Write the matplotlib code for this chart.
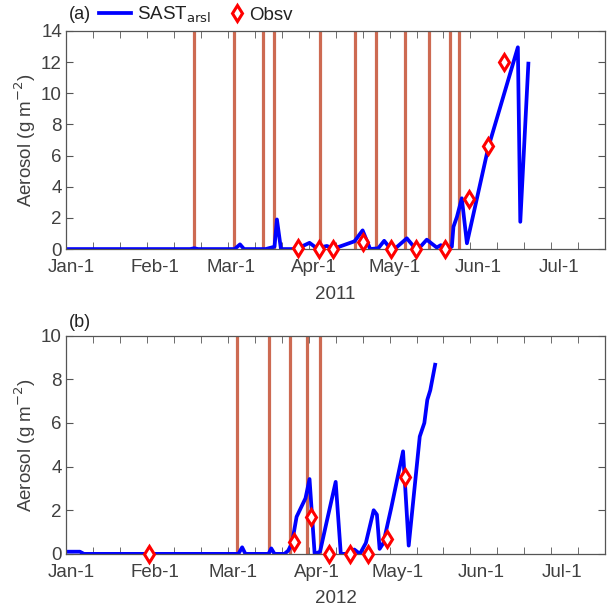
import numpy as np
import matplotlib
matplotlib.use("Agg")
import matplotlib.pyplot as plt
from matplotlib.ticker import FixedLocator, MultipleLocator

plt.rcParams['font.family'] = ['Liberation Sans', 'DejaVu Sans']
plt.rcParams['font.size'] = 13

# --- data (x in day of year, Jan-1 = 1) ---
month_names = ['Jan-1', 'Feb-1', 'Mar-1', 'Apr-1', 'May-1', 'Jun-1', 'Jul-1']
month_doy_2011 = [1, 32, 60, 91, 121, 152, 182]
month_doy_2012 = [1, 32, 61, 92, 122, 153, 183]

# simulated aerosol, 2011
sim_doy_2011 = [-1, 45, 46.5, 48, 61.5, 63.5, 65, 73, 76.3, 77.2, 78.7, 83, 85,
                89.3, 92, 95.7, 98, 99.5, 104.4, 106, 109, 111.8, 114.8, 117,
                119.2, 121.5, 125.4, 128.5, 130.7, 132.8, 136.5, 138, 140.3,
                142.1, 142.7, 144, 145.8, 147.7, 155.6, 166.6, 167.5, 170.5]
sim_val_2011 = [0, 0, 0.05, 0, 0, 0.3, 0, 0, 0.15, 1.9, 0, 0, 0.05,
                0.4, 0.05, 0.2, 0.05, 0.1, 0.4, 0.5, 1.2, 0, 0.05, 0.53,
                0.05, 0.1, 0.69, 0.05, 0.2, 0.6, 0.1, 0.25, 0.05,
                0.15, 1.43, 2.07, 3.26, 0.37, 6.5, 12.95, 1.75, 11.9]
obs_doy_2011 = [85.0, 92.9, 98.1, 109.0, 119.5, 128.8, 139.6, 148.6, 155.7, 161.5]
obs_val_2011 = [0.05, 0.0, 0.0, 0.43, 0.0, 0.02, 0.0, 3.2, 6.6, 12.0]
events_2011 = [46.5, 61.3, 72.2, 76.2, 93.1, 106.0, 113.9, 124.9, 133.8, 141.6, 144.6]

# simulated aerosol, 2012
sim_doy_2012 = [-1, 4.1, 5.6, 62.9, 64.3, 65.5, 74.1, 75.1, 76.3, 80, 81.4, 82.8,
                84.5, 87.8, 89.3, 91.2, 93.2, 95.5, 99, 100.9, 105.2, 105.9, 108,
                110.2, 113.1, 114.3, 115.3, 116.7, 119.6, 124, 126.1, 129.7,
                130.2, 131.9, 133.0, 134.1, 135.9]
sim_val_2012 = [0.1, 0.1, 0, 0, 0.3, 0, 0, 0.25, 0, 0, 0.15, 0.5,
                1.7, 2.55, 3.43, 0, 0.1, 1.38, 3.3, 0, 0, 0.2, 0,
                0.5, 2.0, 1.8, 0.23, 0.5, 2.1, 4.7, 0.38, 4.77,
                5.38, 6.0, 7.06, 7.5, 8.67]
obs_doy_2012 = [29.8, 83.5, 90.0, 96.5, 104.2, 111.0, 117.9, 124.9]
obs_val_2012 = [0.0, 0.56, 1.67, 0.0, 0.0, 0.0, 0.7, 3.52]
events_2012 = [62.3, 74.1, 82.2, 88.3, 93.2]

panels = [
    ('(a)', '2011', month_doy_2011, sim_doy_2011, sim_val_2011,
     obs_doy_2011, obs_val_2011, events_2011, 14),
    ('(b)', '2012', month_doy_2012, sim_doy_2012, sim_val_2012,
     obs_doy_2012, obs_val_2012, events_2012, 10),
]

BAR_COLOR = '#CD6A52'
AX_COLOR = '#555555'
TXT_COLOR = '#404040'
FS = 13.5

fig = plt.figure(figsize=(6.07, 6.06), dpi=100)
rects = [[0.109, 0.589, 0.888, 0.36], [0.109, 0.086, 0.888, 0.36]]

for rect, (tag, year, mdoy, sx, sy, ox, oy, ev, ymax) in zip(rects, panels):
    ax = fig.add_axes(rect)
    for x in ev:
        ax.axvline(x, color=BAR_COLOR, lw=2.3, zorder=1)
    line, = ax.plot(sx, sy, color='#0000FF', lw=2.7, zorder=2, label='SAST$_{\\mathrm{arsl}}$')
    pts, = ax.plot(ox, oy, linestyle='none', marker='d', markersize=8.5,
                   markerfacecolor='white', markeredgecolor='#FF0000',
                   markeredgewidth=2.2, zorder=3, label='Obsv', clip_on=False)

    ax.set_xlim(-1, 199)
    ax.set_ylim(0, ymax)
    ax.yaxis.set_major_locator(MultipleLocator(2))
    ax.xaxis.set_major_locator(FixedLocator(mdoy))
    ax.set_xticklabels(month_names)
    ax.xaxis.set_minor_locator(MultipleLocator(10, offset=-1))
    ax.tick_params(axis='x', which='major', length=0, pad=7, colors=TXT_COLOR,
                   labelsize=FS)
    ax.tick_params(axis='x', which='minor', length=5, direction='in',
                   top=True, bottom=True, color=AX_COLOR)
    ax.tick_params(axis='y', which='major', length=5, direction='in',
                   left=True, right=True, color=AX_COLOR, labelcolor=TXT_COLOR,
                   labelsize=FS, pad=3)
    for sp in ax.spines.values():
        sp.set_color(AX_COLOR)
        sp.set_linewidth(0.9)

    ax.set_ylabel('Aerosol (g m$^{-2}$)', color=TXT_COLOR, fontsize=FS, labelpad=2)
    ax.set_xlabel(year, color=TXT_COLOR, fontsize=FS, labelpad=7)

    if tag == '(a)':
        ax.text(0.005, 1.073, tag, transform=ax.transAxes, ha='left', va='center',
                fontsize=13, color='#222222')
        leg1 = ax.legend(handles=[line], loc='center left', bbox_to_anchor=(0.061, 1.073),
                         frameon=False, fontsize=FS, handlelength=1.7,
                         handletextpad=0.3, borderpad=0, borderaxespad=0,
                         labelcolor='#222222')
        ax.add_artist(leg1)
        ax.legend(handles=[pts], loc='center left', bbox_to_anchor=(0.303, 1.073),
                  frameon=False, fontsize=FS, handlelength=0.8,
                  handletextpad=0.25, borderpad=0, borderaxespad=0,
                  labelcolor='#222222')
    else:
        ax.text(0.005, 1.06, tag, transform=ax.transAxes, ha='left', va='center',
                fontsize=13, color='#222222')

fig.savefig('out.png', dpi=100)
